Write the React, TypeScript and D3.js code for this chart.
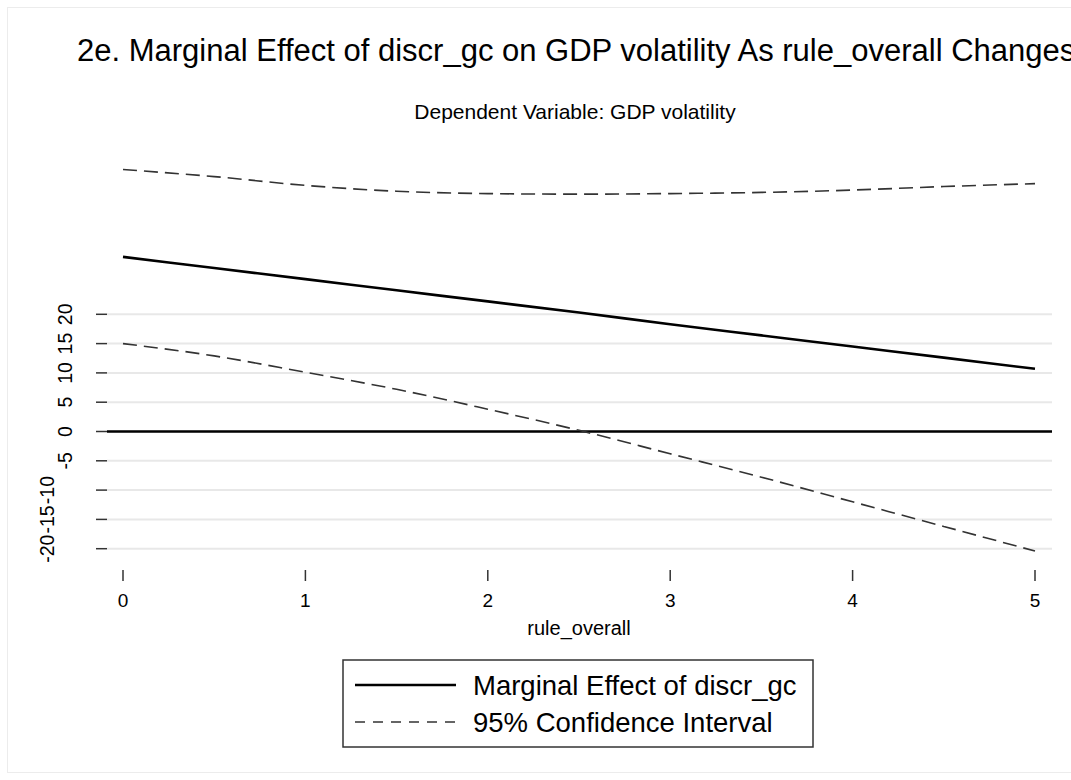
import React from 'react';
import * as d3 from 'd3';

// values
const xValues = [0, 0.5, 1, 1.5, 2, 2.5, 3, 3.5, 4, 4.5, 5];
const effect = [29.8, 27.9, 26.0, 24.1, 22.2, 20.3, 18.3, 16.4, 14.5, 12.6, 10.7];
const upperCI = [44.7, 43.5, 42.0, 41.0, 40.6, 40.5, 40.6, 40.8, 41.2, 41.8, 42.3];
const lowerCI = [15.0, 12.9, 10.1, 7.2, 3.8, 0.2, -3.8, -7.8, -12.0, -16.2, -20.4];
const xTicks = [0, 1, 2, 3, 4, 5];
const yTicks = [-20, -15, -10, -5, 0, 5, 10, 15, 20];

const title = '2e. Marginal Effect of discr_gc on GDP volatility As rule_overall Changes';
const subtitle = 'Dependent Variable: GDP volatility';
const xTitle = 'rule_overall';
const legendLabels = ['Marginal Effect of discr_gc', '95% Confidence Interval'];

const W = 1071;
const H = 780;
const font = '"Liberation Sans", Arial, Helvetica, sans-serif';

const App: React.FC = () => {
  const x = d3.scaleLinear().domain([0, 5]).range([123, 1035]);
  const y = d3.scaleLinear().domain([-20, 20]).range([548.7, 314.3]);

  const plotLeft = 107;
  const plotRight = 1052;

  const line = (vals: number[]) =>
    d3.line<number>()
      .x((_, i) => x(xValues[i]))
      .y(d => y(d))
      .curve(d3.curveMonotoneX)(vals) || '';

  const dash = '14,7';

  return (
    <div style={{ position: 'absolute', left: 0, top: 0 }}>
      <svg width={W} height={H} style={{ display: 'block', background: '#fff' }} fontFamily={font}>
        <rect x={7.5} y={7.5} width={W + 10} height={H - 15} fill="#fff" stroke="#ececec" />

        <text x={77} y={61} fontSize={31} fill="#000">{title}</text>
        <text x={575} y={119} fontSize={21} textAnchor="middle" fill="#000">{subtitle}</text>

        {/* gridlines */}
        {yTicks.map(t => (
          <line key={'g' + t} x1={plotLeft} x2={plotRight} y1={y(t)} y2={y(t)}
            stroke="#e8e8e8" strokeWidth={2} />
        ))}
        {/* y ticks */}
        {yTicks.map(t => (
          <line key={'t' + t} x1={96} x2={plotLeft} y1={y(t)} y2={y(t)}
            stroke="#333" strokeWidth={1.5} />
        ))}
        {yTicks.map(t => {
          const bx = t <= -10 ? 53.5 : 71.5;
          return (
            <text key={'l' + t} transform={`translate(${bx},${y(t)}) rotate(-90)`}
              fontSize={19.5} textAnchor="middle" fill="#000">{t}</text>
          );
        })}

        {/* zero line */}
        <line x1={plotLeft} x2={plotRight} y1={y(0)} y2={y(0)} stroke="#000" strokeWidth={2.6} />

        {/* x axis */}
        {xTicks.map(t => (
          <g key={'x' + t}>
            <line x1={x(t)} x2={x(t)} y1={570} y2={581} stroke="#333" strokeWidth={1.5} />
            <text x={x(t)} y={607} fontSize={19} textAnchor="middle" fill="#000">{t}</text>
          </g>
        ))}
        <text x={(x(0) + x(5)) / 2} y={635} fontSize={20} textAnchor="middle" fill="#000">{xTitle}</text>

        {/* series */}
        <path d={line(upperCI)} fill="none" stroke="#333" strokeWidth={1.6} strokeDasharray={dash} />
        <path d={line(lowerCI)} fill="none" stroke="#333" strokeWidth={1.6} strokeDasharray={dash} />
        <path d={line(effect)} fill="none" stroke="#000" strokeWidth={2.6} />

        {/* legend */}
        <rect x={343} y={660} width={470} height={87} fill="#fff" stroke="#333" strokeWidth={1.5} />
        <line x1={355} x2={456} y1={685} y2={685} stroke="#000" strokeWidth={2.6} />
        <line x1={355} x2={456} y1={722} y2={722} stroke="#333" strokeWidth={1.4} strokeDasharray="10,8" />
        <text x={473} y={694.5} fontSize={27.5} fill="#000">{legendLabels[0]}</text>
        <text x={473} y={731.5} fontSize={27.5} fill="#000">{legendLabels[1]}</text>
      </svg>
    </div>
  );
};

export default App;
